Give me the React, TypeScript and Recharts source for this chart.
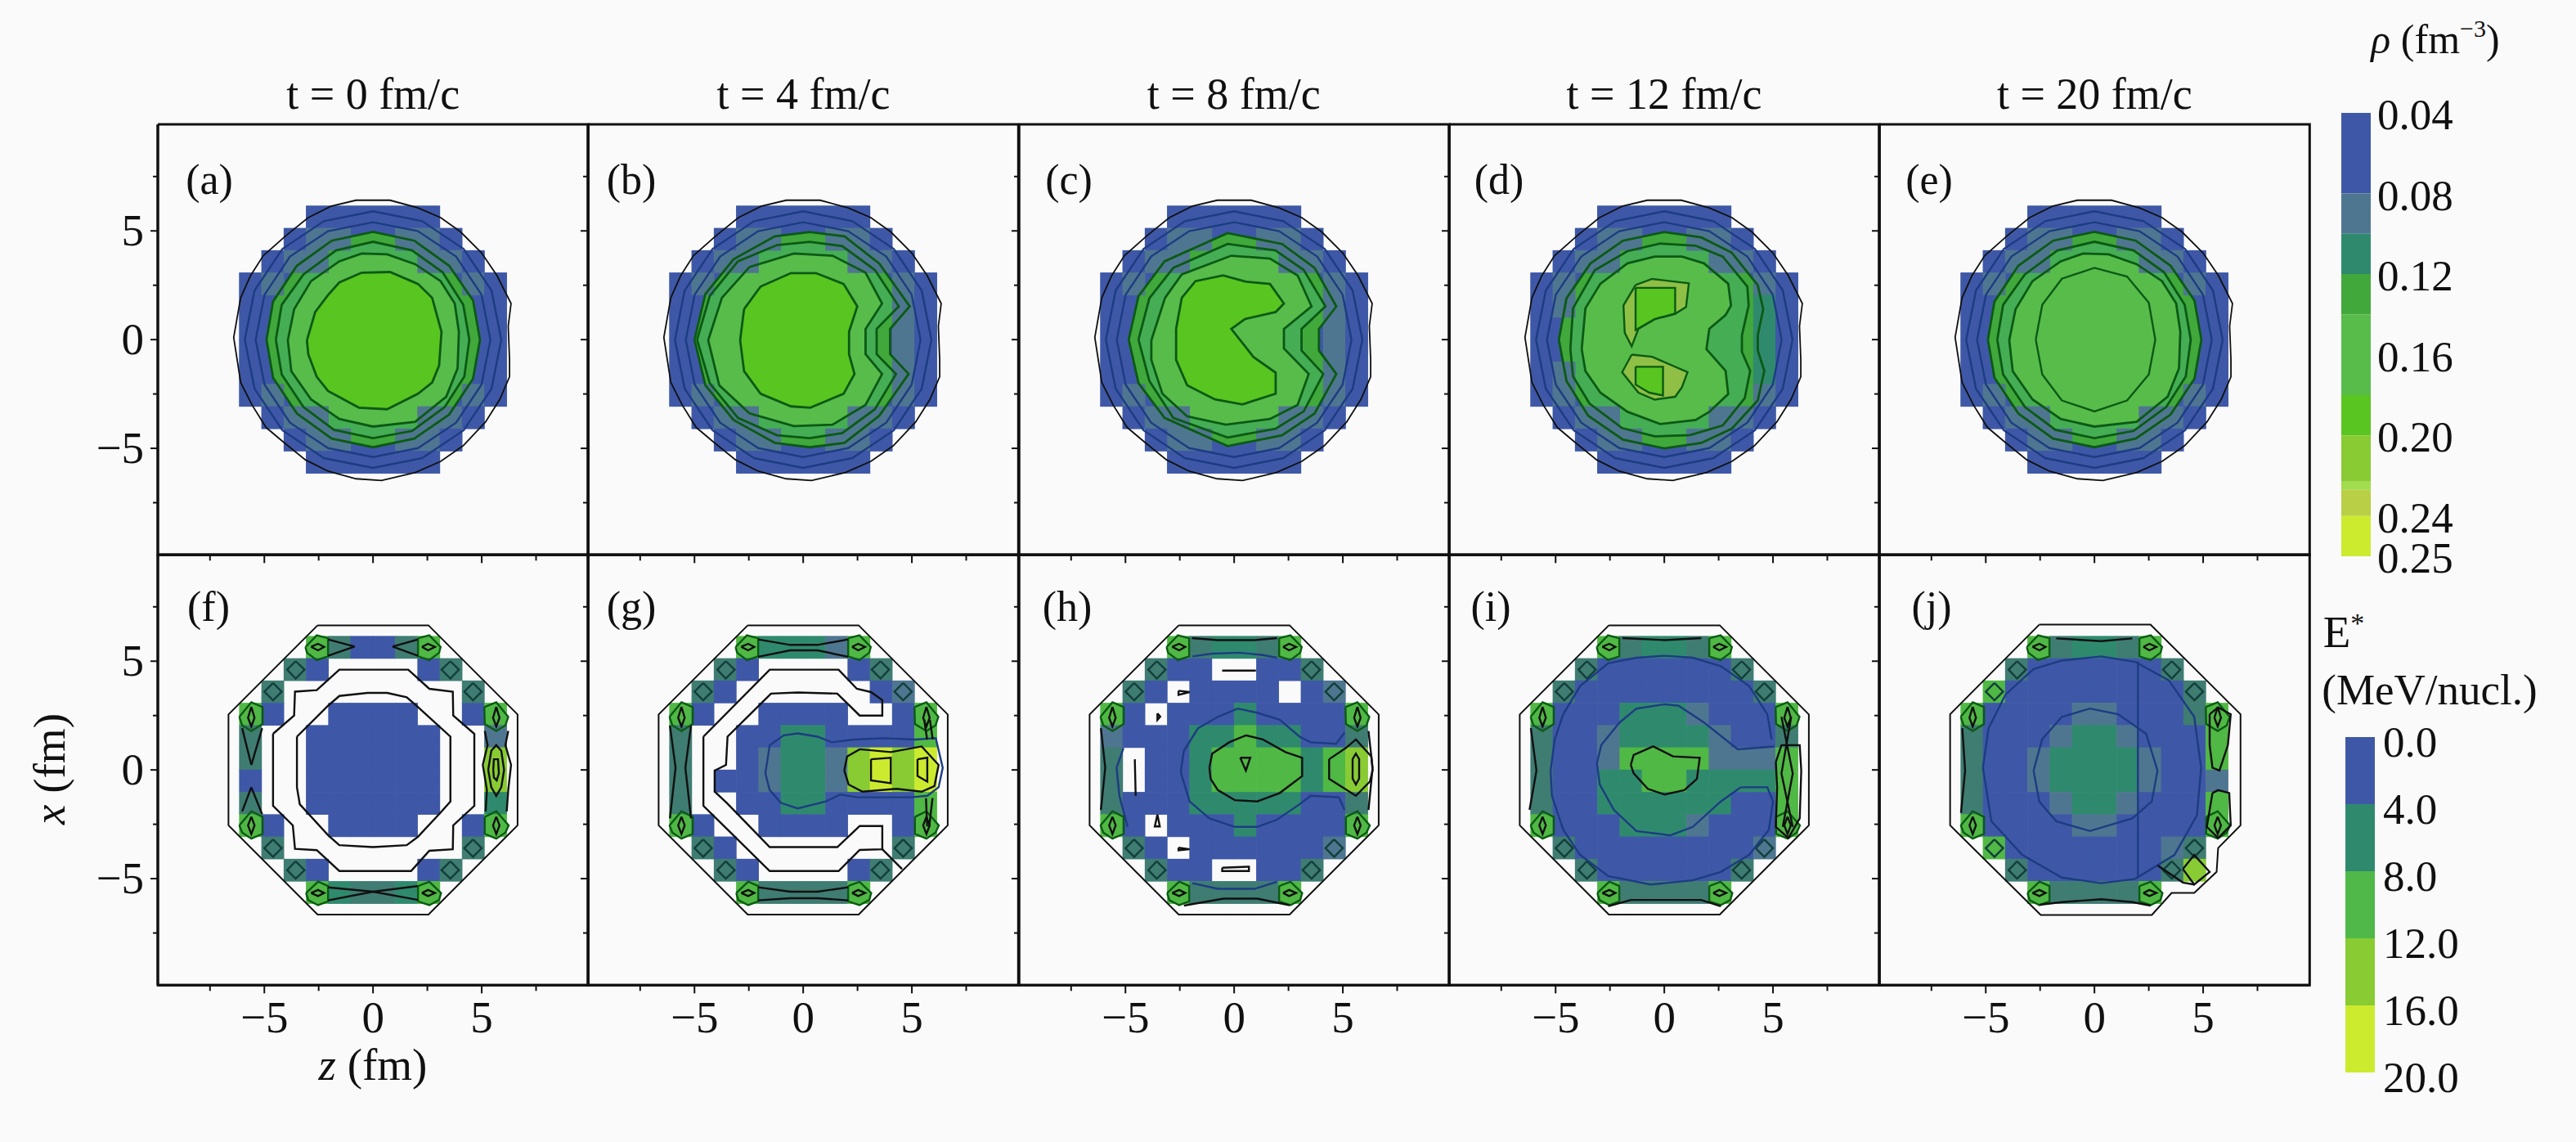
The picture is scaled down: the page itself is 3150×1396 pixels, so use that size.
import React from 'react';
import { ScatterChart, Scatter, XAxis, YAxis, BarChart, Bar } from 'recharts';

// ---- layout ----
const PANEL = 526.3;
const LEFT = 193;
const TOPS = [152, 678.3];
const AXIS_L = 90;
const AXIS_B = 100;
const PAD = 4;
const FM_SPAN = 9.9;
const CELL = 1.025; // fm, size of one grid cell
const CELL_PX = (CELL * PANEL) / (FM_SPAN * 2);
const FONT = '"Liberation Serif", serif';
const BG = '#FAFAFA';

// ---- axes and text ----
const axisTicks = [-7.5, -5, -2.5, 0, 2.5, 5, 7.5];
const labelledTicks = [-5, 0, 5];
const titles = ['t = 0 fm/c', 't = 4 fm/c', 't = 8 fm/c', 't = 12 fm/c', 't = 20 fm/c'];
const topLetters = ['(a)', '(b)', '(c)', '(d)', '(e)'];
const bottomLetters = ['(f)', '(g)', '(h)', '(i)', '(j)'];
const topLetterX = [227, 743, 1278, 1804, 2330];
const bottomLetterX = [228, 745, 1278, 1796, 2335];

// ---- colour scale ----
const COLORS: Record<string, string> = {
  B: '#3E58A7', S: '#4F7690', T: '#2F8A6D', M: '#3F7C72', G: '#50B844', L: '#88CB33', Y: '#CCEB2F',
};
const rhoEdges = [0.04, 0.08, 0.1, 0.12, 0.14, 0.18, 0.2, 0.223, 0.227, 0.24, 0.26];
const rhoColors = ['#3E58A7', '#4F7690', '#2F8A6D', '#41A83C', '#58BC4B', '#59C520', '#88CB33', '#A0DC4C', '#B9CF45', '#CCEB2F'];
const rhoTicks = [0.04, 0.08, 0.12, 0.16, 0.2, 0.24, 0.26];
const rhoTickLabels = ['0.04', '0.08', '0.12', '0.16', '0.20', '0.24', '0.25'];
const eEdges = [0, 4, 8, 12, 16, 20];
const eColors = ['#3E58A7', '#2F8A6D', '#50B848', '#88CB33', '#CCEB2F'];
const eTickLabels = ['0.0', '4.0', '8.0', '12.0', '16.0', '20.0'];

// ---- density panels: cell overlays ('_' shows the contour fill) ----
const rhoCellsA = [
  '...BBBBBB...', '..BSS__SSB..', '.BSS____SSB.', 'BS________SB',
  'B__________B', 'B__________B', 'B__________B', 'B__________B',
  'BS________SB', '.BSS____SSB.', '..BSS__SSB..', '...BBBBBB...',
];
const rhoCellsC = [
  '...BBBBBB...', '..BSS__SSB..', '.BSS____SSB.', 'BS________SB',
  'B_________SB', 'B_________SB', 'B_________SB', 'B_________SB',
  'BS________SB', '.BSS____SSB.', '..BSS__SSB..', '...BBBBBB...',
];
const rhoCellsD = [
  '...BBBBBB...', '..BSS__SSB..', '.BSS____SSB.', 'BS________SB',
  'BS________TB', 'B_________TB', 'B_________TB', 'BS________TB',
  'BS________SB', '.BSS____SSB.', '..BSS__SSB..', '...BBBBBB...',
];

// ---- density panels: contours in fm ----
const rhoMask = '-3.075,6.15 3.075,6.15 3.075,5.125 4.1,5.125 4.1,4.1 5.125,4.1 5.125,3.075 6.15,3.075 6.15,-3.075 5.125,-3.075 5.125,-4.1 4.1,-4.1 4.1,-5.125 3.075,-5.125 3.075,-6.15 -3.075,-6.15 -3.075,-5.125 -4.1,-5.125 -4.1,-4.1 -5.125,-4.1 -5.125,-3.075 -6.15,-3.075 -6.15,3.075 -5.125,3.075 -5.125,4.1 -4.1,4.1 -4.1,5.125 -3.075,5.125';
const rhoOuter = '-5.63,2.95 -5.05,3.86 -4.02,4.77 -2.98,5.61 -1.94,6.13 -0.78,6.41 0.78,6.41 2.07,6.06 3.11,5.61 4.02,4.96 4.99,3.99 5.7,2.95 6.35,1.66 6.22,0.62 6.28,-0.93 6.28,-1.71 5.83,-2.75 5.18,-3.78 4.15,-4.88 3.11,-5.6 1.94,-6.11 0.39,-6.48 -0.78,-6.4 -2.07,-6.05 -3.11,-5.53 -4.15,-4.69 -4.92,-4.04 -5.57,-3.0 -6.09,-1.97 -6.41,0.1 -6.09,1.92';
const rhoBandOuter = '5.9,0 5.45,2.26 4.17,4.17 2.26,5.45 0,5.9 -2.26,5.45 -4.17,4.17 -5.45,2.26 -5.9,0 -5.45,-2.26 -4.17,-4.17 -2.26,-5.45 0,-5.9 2.26,-5.45 4.17,-4.17 5.45,-2.26';
const rhoBandInner = '5.4,0 4.99,2.07 3.82,3.82 2.07,4.99 0,5.4 -2.07,4.99 -3.82,3.82 -4.99,2.07 -5.4,0 -4.99,-2.07 -3.82,-3.82 -2.07,-4.99 0,-5.4 2.07,-4.99 3.82,-3.82 4.99,-2.07';

const ringA4 = '-4.9,0 -4.6,1.75 -3.5,3.4 -1.9,4.55 0,4.96 1.9,4.55 3.5,3.4 4.6,1.8 4.92,0 4.6,-1.8 3.5,-3.45 1.9,-4.55 0,-4.95 -1.9,-4.55 -3.5,-3.4 -4.6,-1.75';
const ringA3 = '-4.47,0 -4.2,1.6 -3.2,3.0 -1.7,4.1 0,4.5 1.8,4.1 3.2,3.1 4.15,1.6 4.43,0 4.2,-1.7 3.3,-3.1 1.8,-4.2 0,-4.53 -1.8,-4.15 -3.2,-3.1 -4.2,-1.6';
const ringA2 = '-3.92,-0.03 -3.63,1.4 -2.85,2.69 -1.55,3.6 -0.52,3.96 0.65,3.92 1.94,3.47 3.11,2.69 3.76,1.66 3.95,0.36 3.89,-1.32 3.37,-2.62 1.94,-3.78 0,-4.0 -1.55,-3.65 -2.85,-2.75 -3.76,-1.45';
const ringA1 = '-3.04,-0.03 -2.66,1.27 -2.07,2.05 -1.55,2.63 -0.52,3.08 0.78,3.11 2.07,2.56 2.72,1.92 3.15,0.36 3.04,-1.19 2.72,-1.97 2.07,-2.49 0.65,-3.2 -0.65,-3.13 -2.07,-2.36 -2.59,-1.71 -2.98,-0.67';

const ringB4 = '-5.0,0 -4.5,2.1 -3.2,3.7 -1.3,4.75 0.3,4.95 1.9,4.75 3.5,3.5 4.9,1.53 4.0,0.49 4.0,-0.67 4.85,-1.58 3.5,-3.5 1.9,-4.75 0.3,-4.95 -1.3,-4.75 -3.2,-3.7 -4.5,-2.1';
const ringB3 = '-4.88,0 -4.3,2.0 -3.0,3.6 -1.2,4.35 0.3,4.5 1.8,4.3 3.3,3.2 4.4,1.53 3.38,0.49 3.38,-0.67 4.27,-1.58 3.3,-3.2 1.8,-4.3 0.3,-4.53 -1.2,-4.4 -3.0,-3.6 -4.3,-2.0';
const ringB2 = '-4.37,-0.03 -3.74,1.92 -2.47,3.34 -0.43,3.96 1.35,3.86 2.87,3.08 3.63,1.66 2.87,0.49 2.87,-0.67 3.63,-1.58 2.87,-3.0 1.35,-3.91 -0.43,-3.98 -2.47,-3.39 -3.86,-2.1';
const ringB1 = '-2.72,1.4 -1.96,2.44 -0.56,3.06 0.58,3.06 1.86,2.56 2.49,1.53 2.11,0.36 2.11,-0.67 2.36,-1.58 1.86,-2.49 0.33,-3.13 -0.56,-3.07 -1.96,-2.49 -2.72,-1.45 -2.9,-0.03';

const ringC4 = '-4.85,0 -4.4,2.0 -3.2,3.6 -0.3,4.9 2.2,4.4 3.7,3.3 4.7,1.53 3.9,0.49 3.9,-0.5 4.7,-1.58 3.7,-3.4 2.2,-4.4 -0.3,-4.9 -3.2,-3.6 -4.4,-2.0';
const ringC3 = '-4.4,0 -3.9,1.9 -2.8,3.3 -0.3,4.4 1.9,4.1 3.2,3.2 4.2,1.53 3.1,0.49 3.1,-0.5 4.1,-1.58 3.2,-3.3 1.9,-4.1 -0.3,-4.5 -2.8,-3.6 -3.9,-1.9';
const ringC2 = '-3.81,-0.03 -3.18,1.92 -2.41,3.0 -0.13,3.86 1.65,3.73 2.92,2.95 3.56,1.53 2.29,0.49 2.29,-0.41 3.43,-1.58 2.92,-3.0 1.65,-3.65 -0.38,-3.91 -2.16,-3.53 -3.3,-2.49 -3.81,-0.93';
const ringC1 = '-2.67,0.49 -2.41,1.92 -1.78,2.69 -0.51,2.95 0.51,2.67 1.65,2.56 2.29,1.66 1.91,1.27 0.51,0.95 -0.13,0.49 0.89,-0.8 1.91,-1.52 1.91,-2.49 0.38,-2.98 -0.89,-2.75 -2.16,-2.1 -2.67,-0.93';

const ringD4 = '-4.85,0 -4.5,1.9 -3.4,3.5 -1.9,4.55 0,4.95 1.7,4.7 3.1,4.0 4.3,2.5 4.55,1.4 4.3,0.2 4.3,-0.5 4.6,-1.44 4.3,-2.8 3.1,-4.1 1.7,-4.75 0,-5.0 -1.9,-4.6 -3.5,-3.5 -4.5,-1.9';
const ringD3 = '-4.32,-0.44 -4.2,1.44 -3.2,3.19 -1.69,4.07 -0.19,4.42 1.44,4.32 2.69,3.82 3.82,2.44 3.88,1.57 3.57,0.19 3.57,-0.56 3.95,-1.44 3.7,-2.69 2.69,-3.95 1.19,-4.39 -0.44,-4.45 -1.94,-4.07 -3.44,-2.94 -4.2,-1.69';
const ringD2 = '-3.8,-0.44 -3.63,1.44 -2.94,2.57 -1.69,3.51 -0.44,3.82 0.81,3.82 1.82,3.51 2.94,2.57 3.07,1.57 2.82,1.13 2.07,0.5 1.94,-0.44 2.82,-1.44 2.94,-2.5 2.07,-3.32 1.44,-3.7 -0.19,-3.88 -1.69,-3.32 -2.94,-2.44 -3.63,-1.44';
const ringD1up = '-1.32,2.51 -0.56,2.79 1.13,2.59 1.0,1.5 0.5,1.19 -0.44,0.94 -1.19,0.5 -1.5,-0.31 -1.82,0.31 -1.88,1.57';
const ringD1low = '-1.5,-0.69 -0.56,-0.79 1.07,-1.5 0.81,-2.19 0.5,-2.63 -0.44,-2.76 -1.19,-2.44 -1.94,-1.5';
const coreD1up = '-1.32,2.38 0.5,2.38 0.5,1.19 -0.44,0.94 -1.32,0.44';
const coreD1low = '-1.32,-1.25 -0.06,-1.25 -0.06,-2.57 -0.69,-2.44 -1.32,-2.07';

const ringE1 = '-2.7,0 -2.4,1.6 -1.5,2.8 0,3.3 1.5,2.9 2.5,1.7 2.8,0 2.5,-1.6 1.5,-2.8 0,-3.3 -1.5,-2.8 -2.4,-1.6';

// ---- excitation panels: shared outlines ----
const octagon = '-2.55,6.65 2.55,6.65 6.65,2.55 6.65,-2.55 2.55,-6.65 -2.55,-6.65 -6.65,-2.55 -6.65,2.55';
const octagonJ = '-2.54,6.68 2.58,6.68 6.72,2.56 6.72,-2.55 5.69,-3.59 5.62,-4.69 4.59,-5.66 3.55,-5.66 2.64,-6.67 -2.47,-6.67 -6.64,-2.55 -6.64,2.56';
const cornerBlobs = [
  '-3.11,5.65 -2.59,6.19 -2.07,6.06 -2.07,5.22 -2.59,5.05 -3.04,5.39',
  '2.07,6.06 2.59,6.19 3.11,5.65 3.04,5.39 2.59,5.05 2.07,5.22',
  '-3.08,-5.66 -2.53,-5.14 -2.07,-5.34 -2.07,-6.05 -2.53,-6.22 -2.98,-5.99',
  '2.07,-5.34 2.59,-5.14 3.13,-5.66 3.04,-5.98 2.59,-6.22 2.07,-6.05',
  '-6.15,2.44 -5.6,3.11 -5.08,2.89 -5.08,2.11 -5.6,1.79 -6.02,2.05',
  '-6.15,-2.55 -5.6,-1.9 -5.08,-2.16 -5.08,-2.94 -5.6,-3.16 -6.02,-2.88',
  '5.12,2.89 5.67,3.11 6.22,2.44 6.09,2.05 5.67,1.79 5.14,2.11',
  '5.14,-2.16 5.67,-1.9 6.24,-2.55 6.09,-2.88 5.67,-3.16 5.14,-2.94',
];
const cornerEyes = [
  '-2.85,5.66 -2.53,5.8 -2.25,5.66 -2.53,5.5',
  '2.25,5.66 2.53,5.8 2.85,5.66 2.53,5.5',
  '-2.85,-5.66 -2.53,-5.52 -2.25,-5.66 -2.53,-5.8',
  '2.25,-5.66 2.53,-5.52 2.85,-5.66 2.53,-5.8',
  '-5.6,2.9 -5.45,2.4 -5.6,2.0 -5.75,2.4',
  '-5.6,-2.15 -5.45,-2.55 -5.6,-2.95 -5.75,-2.55',
  '5.67,2.9 5.82,2.4 5.67,2.0 5.52,2.4',
  '5.67,-2.15 5.82,-2.55 5.67,-2.95 5.52,-2.55',
];
const diamonds = [
  '-3.56,5.0 -3.15,4.61 -3.56,4.2 -3.95,4.61',
  '3.56,5.0 3.95,4.61 3.56,4.2 3.15,4.61',
  '-4.6,4.0 -4.2,3.6 -4.6,3.2 -5.0,3.6',
  '4.6,4.0 5.0,3.6 4.6,3.2 4.2,3.6',
  '-4.6,-3.2 -4.2,-3.6 -4.6,-4.0 -5.0,-3.6',
  '4.6,-3.2 5.0,-3.6 4.6,-4.0 4.2,-3.6',
  '-3.56,-4.2 -3.15,-4.61 -3.56,-5.0 -3.95,-4.61',
  '3.56,-4.2 3.95,-4.61 3.56,-5.0 3.15,-4.61',
];

// ---- excitation panels: cells ('.' is empty) ----
const cellsF = [
  '...GMBBMG...', '..MB....BM..', '.M........M.', 'GB..BBBB..BG',
  'M..BBBBBB..S', 'M..BBBBBB..L', 'B..BBBBBB..L', 'M..BBBBBB..T',
  'GB..BBBB..BG', '.M........M.', '..MB....BM..', '...GTMMTG...',
];
const cellsG = [
  '...GTTTSG...', '..MB....BM..', '.MB......BS.', 'GB..BBBB..BG',
  'M..BBTTBBBBG', 'M..BSTTSLYLY', 'M.BBSTTSLYLY', 'M..BBTTBBBBG',
  'GB..BBBB..BG', '.MB.......M.', '..MB....BM..', '...GMMMMG...',
];
const cellsH = [
  '...GMTTMG...', '..MBB..BBM..', '.MB.BBBB.BS.', 'GB.BBBTBBBBG',
  'SBBBTTGTTBBM', 'M.BBTGGGGTGL', 'M.BBTGGGGTGL', 'MBBBTTTTTBBM',
  'GB.BBBTBBBBG', '.MB.BBBBBBS.', '..MBB..BBM..', '...GMMMMG...',
];
const cellsI = [
  '...GMTTMG...', '..MBBBBBBM..', '.MBBBBBBBBM.', 'GBBBTTTSBBBG',
  'MBBSTTTTSBBM', 'MBBSGGGGSSSG', 'MBBTTGGTTTTG', 'MBBTTTTTTBBG',
  'GBBBTTTSBBBG', '.MBBBBBBBBS.', '..MBBBBBBM..', '...GMMMMG...',
];
const cellsJ = [
  '...GMTTMG...', '..MBBBBBBM..', '.GBBBBBBBBM.', 'GBBBBSSBBBMG',
  'MBBBSTTSBBBG', 'MBBSTTTTSBBG', 'MBBSTTTTSBBS', 'MBBBSTTSBBBG',
  'GBBBBSSBBBBG', '.GBBBBBBBSM.', '..MBBBBBBML.', '...GMMMMG...',
];

// ---- excitation panels: contours in fm ----
const loopsF = [
  '-3.5,1.53 -2.07,2.95 -1.55,3.4 -0.25,3.54 0.65,3.54 1.55,3.34 2.07,2.89 3.56,1.53 3.56,-1.45 3.1,-1.97 2.07,-3.07 1.55,-3.46 0,-3.55 -1.55,-3.46 -2.07,-3.0 -3.37,-1.58 -3.5,-0.8',
  '-4.6,1.66 -3.63,2.5 -3.59,3.6 -2.59,3.67 -1.55,4.61 1.62,4.61 2.59,3.73 3.67,3.6 3.69,2.5 4.66,1.66 4.66,-1.65 3.69,-2.55 3.67,-3.65 2.59,-3.72 1.75,-4.65 -1.55,-4.65 -2.59,-3.69 -3.59,-3.63 -3.69,-2.55 -4.6,-1.65',
  '5.3,0 5.44,0.88 5.67,1.14 5.9,0.88 6.03,0 5.9,-0.8 5.67,-1.19 5.44,-0.8',
  '5.53,0 5.56,0.49 5.75,0.49 5.79,-0.16 5.69,-0.48 5.56,-0.35',
];
const opensF = [
  '-2.07,6.0 -0.85,5.67', '-2.07,5.25 -0.85,5.67', '2.07,6.0 0.9,5.67', '2.07,5.25 0.9,5.67',
  '-2.07,-5.4 0,-5.6 2.07,-5.98', '-2.07,-6.0 0,-5.6 2.07,-5.34',
  '-6.02,1.92 -5.6,0.23', '-5.1,1.92 -5.6,0.23', '-5.6,-0.8 -6.02,-1.91', '-5.6,-0.8 -5.1,-2.04',
  '5.14,1.79 5.27,1.14 5.05,0.23 5.24,-0.93 5.18,-1.91', '6.22,1.79 6.09,1.14 6.35,0.23 6.22,-0.93 6.15,-1.91',
];
const loopsG = [
  '-4.59,1.53 -1.54,4.61 1.63,4.61 2.47,3.73 3.12,3.58 3.64,3.21 3.64,2.5 2.6,2.5 1.57,3.51 -0.25,3.56 -1.48,3.51 -3.48,1.53 -3.55,0.23 -4.07,-0.03 -4.07,-1.0 -3.51,-1.52 -1.54,-3.55 1.57,-3.55 2.6,-2.58 3.64,-2.58 3.64,-3.65 2.6,-3.68 1.63,-4.65 -1.54,-4.65 -4.59,-1.65',
  '1.89,-0.03 2.02,0.62 2.6,0.95 4.03,0.82 5.45,1.08 6.23,0.23 6.04,-0.74 5.45,-1.0 4.29,-0.87 2.73,-1.0 2.09,-0.67',
  '3.12,0.49 4.03,0.56 4.03,-0.61 3.12,-0.48',
  '5.26,0.49 5.71,0.56 5.71,-0.54 5.26,-0.28',
];
const navyG = [
  '-1.74,-0.16 -1.54,1.14 -0.89,1.59 -0.25,1.68 0.66,1.53 1.31,1.27 2.34,1.4 3.64,1.46 5.19,1.4 6.1,1.46 6.42,0.1 6.23,-0.8 5.71,-1.19 4.94,-1.26 2.47,-1.26 1.7,-1.13 1.05,-1.45 -0.25,-1.77 -1.02,-1.52 -1.54,-0.93 -1.74,-0.16',
];
const opensG = [
  '3.64,-3.65 4.55,-4.56',
  '-2.07,6.0 -0.6,5.75 0.66,5.75 2.07,6.0', '-2.07,5.2 -0.6,5.5 0.66,5.5 2.07,5.2',
  '-2.07,-5.4 -0.6,-5.6 0.66,-5.6 2.07,-5.4', '-2.07,-6.0 -0.6,-5.9 0.66,-5.9 2.07,-6.0',
  '-6.13,2.03 -5.87,0.1 -6.13,-2.23', '-5.16,2.03 -5.42,0.1 -5.16,-2.23',
  '5.57,2.3 5.7,1.4', '5.83,2.3 5.96,1.4', '5.65,-1.3 5.7,-2.6', '5.95,-1.3 5.8,-2.6',
];
const loopsH = [
  '-1.14,0.1 -1.01,0.75 -0.23,1.27 0.54,1.59 1.32,1.4 2.36,0.82 3.13,0.56 3.13,-0.28 2.1,-1.06 1.06,-1.45 0.03,-1.39 -0.75,-0.93 -1.08,-0.41',
  '0.28,0.56 0.74,0.56 0.54,-0.03',
  '4.37,0.49 5.14,1.01 5.6,1.4 6.31,0.62 6.37,-0.03 6.24,-0.54 5.6,-1.19 4.37,-0.41',
  '5.45,0.5 5.6,0.75 5.75,0.5 5.75,-0.4 5.6,-0.67 5.45,-0.4',
  '-0.55,-4.5 0.68,-4.45 0.68,-4.65 -0.55,-4.65',
  '-2.56,3.64 -2.05,3.58 -2.56,3.45',
  '-3.53,2.6 -3.4,2.45 -3.53,2.3',
  '-3.53,-2.05 -3.42,-2.6 -3.65,-2.6',
  '-2.56,-3.58 -2.05,-3.65 -2.56,-3.7',
];
const navyH = [
  '5.08,1.72 4.69,1.2 3.52,1.27 3.01,1.53 2.1,2.31 1.06,2.63 0.16,2.82 -0.75,2.44 -1.66,1.92 -2.31,0.88 -2.44,0.04 -2.44,-0.16 -2.05,-1.45 -1.14,-2.23 0.03,-2.62 1.06,-2.62 1.97,-2.29 3.01,-1.58 3.52,-1.19 4.82,-1.26 5.08,-1.84',
  '-1.92,5.22 -1.01,5.35 0.28,5.39 1.32,5.28 1.97,5.16',
  '-1.92,-5.21 -0.75,-5.47 0.93,-5.47 1.97,-5.14',
  '-5.09,1.01 -5.41,0.1 -5.28,-1.19 -4.9,-2.62',
];
const opensH = [
  '-1.94,6.06 -0.75,5.97 0.93,5.97 1.97,6.06', '-2.31,-6.24 -0.49,-5.92 1.06,-5.92 2.55,-6.22',
  '-6.13,1.92 -5.93,0.1 -6.13,-1.84', '6.18,1.79 6.37,0.1 6.18,-1.84',
  '-0.55,4.57 1.0,4.57', '-4.57,0.49 -4.53,-1.19',
];
const loopsI = [
  '-1.54,0.23 -1.41,0.69 -0.51,1.08 0.4,0.62 1.63,0.56 1.5,-0.41 0.92,-0.93 0.01,-1.13 -0.76,-0.87 -1.41,-0.16',
  '5.13,0.36 5.39,1.14 6.23,1.14 6.3,-0.03 6.23,-2.23 5.71,-3.13 5.13,-2.62 5.19,-0.8',
];
const navyI = [
  '4.94,1.4 4.74,2.56 3.9,3.86 2.6,4.77 1.31,5.16 0.01,5.25 -1.28,5.16 -2.58,4.9 -3.87,3.86 -4.65,2.56 -5.04,1.4 -5.23,-0.03 -5.17,-1.19 -4.65,-2.75 -3.87,-3.91 -2.58,-4.88 -0.63,-5.27 1.31,-5.08 2.6,-4.69 3.9,-3.91 4.81,-2.75 5.0,-1.45 4.74,-0.8 3.51,-0.8',
  '5.06,1.08 3.38,0.95 1.83,2.18 0.66,2.95 0.01,3.02 -1.28,2.82 -2.06,2.18 -2.9,1.14 -3.1,0.3 -2.97,-0.67 -2.32,-1.84 -1.28,-2.81 0.27,-3.01 1.31,-2.62 2.6,-1.45 3.51,-0.8',
];
const opensI = [
  '5.39,2.44 5.91,-0.16 5.45,-2.62', '5.84,2.44 5.39,-0.16 5.91,-2.62',
  '-1.93,6.06 0.01,5.97 1.7,6.06', '-2.58,-6.27 -1.54,-5.98 0.01,-5.98 1.7,-5.98 2.6,-6.27',
  '-6.14,1.92 -5.88,-0.03 -6.2,-1.84',
];
const loopsJ = [
  '5.3,2.56 5.69,2.88 6.27,2.56 6.14,1.14 5.75,-0.03 5.43,0.1 5.3,1.14',
  '5.43,-1.06 5.69,-0.93 6.2,-1.06 6.27,-2.55 5.69,-3.13 5.17,-2.62 5.3,-1.84',
  '4.07,-4.56 4.59,-3.91 5.3,-4.69 4.59,-5.27',
];
const navyJ = [
  '-5.13,0.1 -4.87,1.92 -4.09,3.47 -2.8,4.64 -1.5,5.03 0.31,5.22 1.87,4.97 3.42,4.12 4.59,2.44 4.91,0.1 4.71,-2.1 3.68,-3.91 1.87,-5.01 0.31,-5.21 -1.5,-4.95 -3.32,-3.91 -4.74,-2.36 -5.13,0.1',
  '-2.8,-0.03 -2.41,1.4 -1.5,2.44 -0.21,2.82 1.09,2.56 2.38,1.66 2.9,-0.03 2.64,-1.45 1.74,-2.23 -0.21,-2.81 -1.76,-2.36 -2.54,-1.45 -2.8,-0.03',
];
const opensJ = [
  '-1.76,6.05 0.31,5.92 1.74,6.05', '-2.52,-6.2 -1.5,-6.08 0.31,-5.95 1.74,-6.08 2.58,-6.24',
  '-6.08,1.92 -5.95,-0.03 -6.14,-1.97', '2.91,-4.4 4.07,-5.18 4.59,-5.27',
];
const seamJ = '2.0,5.0 2.0,-5.0';
const frame = `${-FM_SPAN},${FM_SPAN} ${FM_SPAN},${FM_SPAN} ${FM_SPAN},${-FM_SPAN} ${-FM_SPAN},${-FM_SPAN}`;

type Pt = { x: number; y: number };
const pts = (s: string): Pt[] =>
  s.split(' ').map((p) => {
    const [x, y] = p.split(',').map(Number);
    return { x, y };
  });
const loop = (s: string): Pt[] => {
  const p = pts(s);
  return [...p, p[0]];
};

const cellPoints = (rows: string[]) => {
  const out: { x: number; y: number; c: string }[] = [];
  rows.forEach((row, r) =>
    row.split('').forEach((c, k) => {
      if (COLORS[c]) out.push({ x: (k - 5.5) * CELL, y: (5.5 - r) * CELL, c });
    })
  );
  return out;
};

const CellSquare = (props: any) => {
  const { cx, cy, payload } = props;
  return (
    <rect
      x={cx - CELL_PX / 2 - 0.3}
      y={cy - CELL_PX / 2 - 0.3}
      width={CELL_PX + 0.6}
      height={CELL_PX + 0.6}
      fill={COLORS[payload.c]}
    />
  );
};

const noDot = () => null;

const INK = '#101010';
const NAVY = '#1D3C82';
const LEAF = '#0B5A14';
const FILL_BLUE = '#3E58A7';
const FILL_RING = ['#41A83C', '#45AE55', '#58BC4B', '#59C520'];

type PolyLine = { data: Pt[]; stroke: string; width?: number };
type Fill = { data: Pt[]; fill: string };
type PanelProps = {
  col: number;
  row: number;
  fills?: Fill[];
  cells: string[];
  lines: PolyLine[];
};

const Panel = ({ col, row, fills = [], cells, lines }: PanelProps) => {
  const bottomRow = row === 1;
  const XTick = (p: any) => {
    const v = p.payload.value;
    const major = labelledTicks.includes(v);
    return (
      <g>
        <line x1={p.x} x2={p.x} y1={p.y} y2={p.y + (major ? 10 : 7)} stroke={INK} strokeWidth={2} />
        {bottomRow && major && (
          <text x={p.x} y={p.y + 58} textAnchor="middle" fontFamily={FONT} fontSize={55} fill={INK}>
            {v < 0 ? `\u2212${-v}` : v}
          </text>
        )}
      </g>
    );
  };
  const YTick = (p: any) => {
    const v = p.payload.value;
    const major = labelledTicks.includes(v);
    return (
      <g>
        <line x1={p.x} x2={p.x - (major ? 9 : 6)} y1={p.y} y2={p.y} stroke={INK} strokeWidth={2} />
        {col === 0 && major && (
          <text x={p.x - 17} y={p.y + 18} textAnchor="end" fontFamily={FONT} fontSize={55} fill={INK}>
            {v < 0 ? `\u2212${-v}` : v}
          </text>
        )}
      </g>
    );
  };
  const border = { stroke: INK, strokeWidth: 3 };
  return (
    <div style={{ position: 'absolute', left: LEFT + col * PANEL - AXIS_L, top: TOPS[row] - PAD }}>
      <ScatterChart
        width={AXIS_L + PANEL + PAD}
        height={PAD + PANEL + AXIS_B}
        margin={{ top: PAD, right: PAD, left: 0, bottom: 0 }}
      >
        <XAxis
          dataKey="x"
          type="number"
          domain={[-FM_SPAN, FM_SPAN]}
          ticks={axisTicks}
          interval={0}
          height={AXIS_B}
          tickSize={0}
          tickMargin={0}
          tickLine={false}
          axisLine={border}
          tick={XTick}
        />
        <YAxis
          dataKey="y"
          type="number"
          domain={[-FM_SPAN, FM_SPAN]}
          ticks={axisTicks}
          interval={0}
          width={AXIS_L}
          tickSize={0}
          tickMargin={0}
          tickLine={false}
          axisLine={border}
          tick={YTick}
        />
        {fills.map((f, i) => (
          <Scatter
            key={`fill${i}`}
            data={f.data}
            shape={noDot}
            line={{ stroke: 'none', fill: f.fill }}
            isAnimationActive={false}
          />
        ))}
        <Scatter data={cellPoints(cells)} shape={CellSquare} isAnimationActive={false} />
        {lines.map((l, i) => (
          <Scatter
            key={`line${i}`}
            data={l.data}
            shape={noDot}
            line={{ stroke: l.stroke, strokeWidth: l.width ?? 2.4, fill: 'none' }}
            isAnimationActive={false}
          />
        ))}
        <Scatter
          data={loop(frame)}
          shape={noDot}
          line={{ stroke: INK, strokeWidth: 3, fill: 'none' }}
          isAnimationActive={false}
        />
      </ScatterChart>
    </div>
  );
};

// density panel from its rings, outermost first
const rhoPanel = (col: number, cells: string[], rings: string[], extra: Fill[] = []) => {
  const fills: Fill[] = [
    { data: loop(rhoMask), fill: FILL_BLUE },
    ...rings.map((r, i) => ({ data: loop(r), fill: FILL_RING[i] })),
    ...extra,
  ];
  const lines: PolyLine[] = [
    { data: loop(rhoBandOuter), stroke: NAVY },
    { data: loop(rhoBandInner), stroke: NAVY },
    ...rings.map((r) => ({ data: loop(r), stroke: LEAF, width: 2.8 })),
    ...extra.map((e) => ({ data: e.data, stroke: LEAF })),
    { data: loop(rhoOuter), stroke: INK, width: 1.8 },
  ];
  return <Panel key={`rho${col}`} col={col} row={0} cells={cells} fills={fills} lines={lines} />;
};

const energyPanel = (
  col: number,
  cells: string[],
  outline: string,
  loops: string[],
  navy: string[],
  opens: string[]
) => {
  const fills: Fill[] = cornerBlobs.map((d) => ({ data: loop(d), fill: COLORS.G }));
  const lines: PolyLine[] = [
    ...diamonds.map((d) => ({ data: loop(d), stroke: '#123F3A' })),
    ...cornerBlobs.map((d) => ({ data: loop(d), stroke: LEAF })),
    ...cornerEyes.map((d) => ({ data: loop(d), stroke: INK })),
    ...navy.map((d) => ({ data: pts(d), stroke: NAVY })),
    ...opens.map((d) => ({ data: pts(d), stroke: INK })),
    ...loops.map((d) => ({ data: loop(d), stroke: INK })),
    { data: loop(outline), stroke: INK, width: 2 },
  ];
  return <Panel key={`e${col}`} col={col} row={1} cells={cells} fills={fills} lines={lines} />;
};

const Txt = ({ x, y, size = 54, rotate, children }: any) => (
  <div
    style={{
      position: 'absolute',
      left: x,
      top: y,
      transform: `translate(-50%, -50%)${rotate ? ` rotate(${rotate}deg)` : ''}`,
      fontFamily: FONT,
      fontSize: size,
      color: INK,
      whiteSpace: 'pre',
      lineHeight: 1,
    }}
  >
    {children}
  </div>
);

const rhoRow = (() => {
  const row: Record<string, number | string> = { name: 'rho', off: rhoEdges[0] };
  rhoColors.forEach((_, i) => {
    row[`b${i}`] = rhoEdges[i + 1] - rhoEdges[i];
  });
  return row;
})();
const eRow = (() => {
  const row: Record<string, number | string> = { name: 'e' };
  eColors.forEach((_, i) => {
    row[`b${i}`] = eEdges[i + 1] - eEdges[i];
  });
  return row;
})();

const BarTick = (labels: string[], gap: number, dy: number, ticks: number[]) => (p: any) => (
  <text x={p.x + gap} y={p.y + dy} fontFamily={FONT} fontSize={53} fill={INK}>
    {labels[ticks.indexOf(p.payload.value)]}
  </text>
);

const ColorBar = ({ left, top, width, height, row, colors, domain, ticks, labels, gap, dy, offset }: any) => (
  <div style={{ position: 'absolute', left, top: top - 50 }}>
    <BarChart
      width={width + 180}
      height={height + 100}
      data={[row]}
      margin={{ top: 50, bottom: 50, left: 0, right: 0 }}
      barCategoryGap={0}
    >
      <XAxis dataKey="name" hide />
      <YAxis
        type="number"
        orientation="right"
        reversed
        allowDataOverflow
        domain={domain}
        ticks={ticks}
        interval={0}
        width={180}
        axisLine={false}
        tickLine={false}
        tickSize={0}
        tickMargin={0}
        tick={BarTick(labels, gap, dy, ticks)}
      />
      {offset && <Bar dataKey="off" stackId="c" fill="none" isAnimationActive={false} />}
      {colors.map((c: string, i: number) => (
        <Bar key={c + i} dataKey={`b${i}`} stackId="c" fill={c} isAnimationActive={false} />
      ))}
    </BarChart>
  </div>
);

export default function App() {
  return (
    <div style={{ position: 'absolute', left: 0, top: 0, width: 3150, height: 1396, background: BG, overflow: 'hidden' }}>
      {titles.map((t, i) => (
        <Txt key={t} x={LEFT + PANEL * (i + 0.5)} y={115}>{t}</Txt>
      ))}

      {rhoPanel(0, rhoCellsA, [ringA4, ringA3, ringA2, ringA1])}
      {rhoPanel(1, rhoCellsC, [ringB4, ringB3, ringB2, ringB1])}
      {rhoPanel(2, rhoCellsC, [ringC4, ringC3, ringC2, ringC1])}
      {rhoPanel(3, rhoCellsD, [ringD4, ringD3, ringD2], [
        { data: loop(ringD1up), fill: '#8FBF45' },
        { data: loop(ringD1low), fill: '#8FBF45' },
        { data: loop(coreD1up), fill: '#59C520' },
        { data: loop(coreD1low), fill: '#59C520' },
      ])}
      {rhoPanel(4, rhoCellsA, [ringA4, ringA3, ringA2], [{ data: loop(ringE1), fill: '#58BC4B' }])}

      {energyPanel(0, cellsF, octagon, loopsF, [], opensF)}
      {energyPanel(1, cellsG, octagon, loopsG, navyG, opensG)}
      {energyPanel(2, cellsH, octagon, loopsH, navyH, opensH)}
      {energyPanel(3, cellsI, octagon, loopsI, navyI, opensI)}
      {energyPanel(4, cellsJ, octagonJ, loopsJ, [...navyJ, seamJ], opensJ)}

      {topLetters.map((t, i) => (
        <Txt key={t} x={topLetterX[i] + 29} y={220} size={52}>{t}</Txt>
      ))}
      {bottomLetters.map((t, i) => (
        <Txt key={t} x={bottomLetterX[i] + 27} y={742} size={52}>{t}</Txt>
      ))}

      <Txt x={456} y={1301} size={55}><i>z</i> (fm)</Txt>
      <Txt x={60} y={940} size={55} rotate={-90}><i>x</i> (fm)</Txt>

      <Txt x={2978} y={48} size={50}>
        <i>ρ</i> (fm<sup style={{ fontSize: 30, verticalAlign: 'baseline', position: 'relative', top: -20 }}>−3</sup>)
      </Txt>
      <Txt x={2866} y={772} size={55}>
        E<sup style={{ fontSize: 34, verticalAlign: 'baseline', position: 'relative', top: -18 }}>*</sup>
      </Txt>
      <Txt x={2971} y={843} size={53}>(MeV/nucl.)</Txt>

      <ColorBar
        left={2863} top={138} width={36} height={542}
        row={rhoRow} colors={rhoColors} domain={[0.04, 0.26]} ticks={rhoTicks} labels={rhoTickLabels}
        gap={8} dy={20} offset
      />
      <ColorBar
        left={2868} top={901} width={36} height={410}
        row={eRow} colors={eColors} domain={[0, 20]} ticks={eEdges} labels={eTickLabels}
        gap={10} dy={24}
      />
    </div>
  );
}
